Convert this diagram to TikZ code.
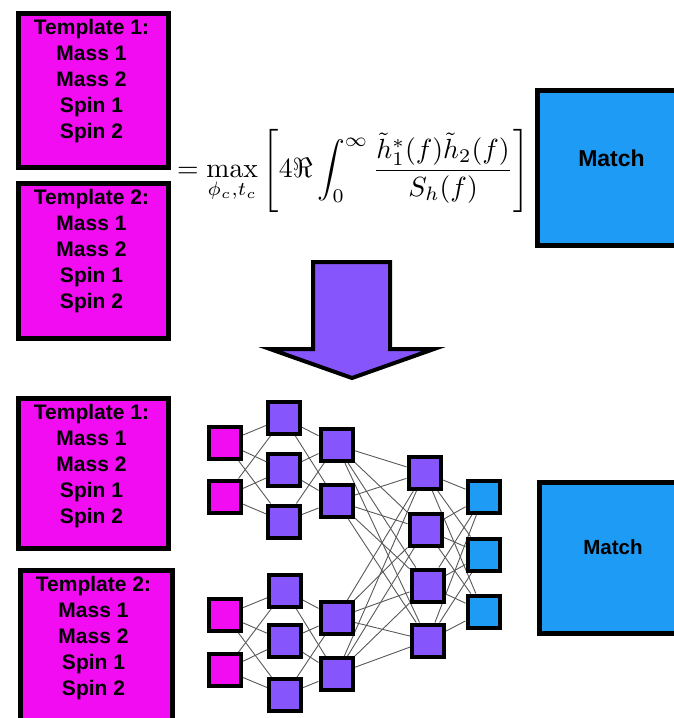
\documentclass[tikz,border=0pt]{standalone}
\usepackage{fontspec}
\newfontfamily\lsans{Liberation Sans}
\usepackage{amsmath,amssymb,graphicx}
\usetikzlibrary{backgrounds}
\definecolor{magen}{RGB}{242,12,242}
\definecolor{purp}{RGB}{135,85,252}
\definecolor{blu}{RGB}{30,155,245}
\tikzset{
  bigbox/.style={draw=black,line width=5pt},
  boxtext/.style={font=\lsans\bfseries\fontsize{21}{26}\selectfont,align=center,inner sep=0pt,anchor=north},
  matchtext/.style={font=\lsans\bfseries\fontsize{23}{28}\selectfont,inner sep=0pt},
  neuron/.style={draw=black,line width=4pt,minimum size=32pt,inner sep=0pt},
  inp/.style={neuron,fill=magen},
  hid/.style={neuron,fill=purp},
  outp/.style={neuron,fill=blu},
  conn/.style={draw=black!65,line width=0.9pt},
}
\begin{document}
\begin{tikzpicture}[x=1pt,y=-1pt]
\useasboundingbox (0,0) rectangle (674,718);
\clip (0,0) rectangle (674,718);
% top template boxes
\node[bigbox,fill=magen,minimum width=150pt,minimum height=154pt,anchor=north west] (tb1) at (15.5,10.5) {};
\node[boxtext] (tb1t) at (91.5,19) {Template 1:\\Mass 1\\Mass 2\\Spin 1\\Spin 2};
\node[bigbox,fill=magen,minimum width=150pt,minimum height=155pt,anchor=north west] (tb2) at (15.5,180.5) {};
\node[boxtext] (tb2t) at (91.5,189) {Template 2:\\Mass 1\\Mass 2\\Spin 1\\Spin 2};
% formula
\node[inner sep=0pt,anchor=west] (eq) at (177,170.5) {\resizebox{352pt}{!}{$\displaystyle =\max_{\phi_c,t_c}\left[4\Re\int_0^\infty\frac{\tilde h_1^*(f)\tilde h_2(f)}{S_h(f)}\right]$}};
% top match
\node[bigbox,fill=blu,minimum width=150pt,minimum height=155pt,anchor=north west] (mt) at (534.5,87.5) {};
\node[matchtext] (mtt) at (611.5,158) {Match};
% big arrow
\draw[fill=purp,draw=black,line width=4pt,line join=miter] (313,262) -- (390,262) -- (390,349) -- (434,349) -- (352,378) -- (270,349) -- (313,349) -- cycle;
% bottom template boxes
\node[bigbox,fill=magen,minimum width=150pt,minimum height=150pt,anchor=north west] (bt1) at (15.5,395.5) {};
\node[boxtext] (bt1t) at (91.5,404) {Template 1:\\Mass 1\\Mass 2\\Spin 1\\Spin 2};
\node[bigbox,fill=magen,minimum width=152pt,minimum height=170pt,anchor=north west] (bt2) at (17.5,567.5) {};
\node[boxtext] (bt2t) at (93.5,576) {Template 2:\\Mass 1\\Mass 2\\Spin 1\\Spin 2};
% bottom match
\node[bigbox,fill=blu,minimum width=150pt,minimum height=151pt,anchor=north west] (mb) at (536.5,479.5) {};
\node[matchtext,font=\lsans\bfseries\fontsize{20.5}{25}\selectfont] (mbt) at (613,547) {Match};
% network
\node[inp] (a1) at (225,442.5) {};
\node[inp] (a2) at (225,496.5) {};
\node[hid] (b1) at (284,418) {};
\node[hid] (b2) at (284,470) {};
\node[hid] (b3) at (284,521.5) {};
\node[hid] (c1) at (336.5,445) {};
\node[hid] (c2) at (336.5,501) {};
\node[inp] (a3) at (225,615) {};
\node[inp] (a4) at (225,670) {};
\node[hid] (b4) at (285,590.5) {};
\node[hid] (b5) at (285,641) {};
\node[hid] (b6) at (285,695) {};
\node[hid] (c3) at (336.5,618) {};
\node[hid] (c4) at (336.5,674) {};
\node[hid] (d1) at (424.5,472.5) {};
\node[hid] (d2) at (425.5,529.5) {};
\node[hid] (d3) at (427.5,585.5) {};
\node[hid] (d4) at (428,640.5) {};
\node[outp] (e1) at (483.5,496.5) {};
\node[outp] (e2) at (483.5,554.5) {};
\node[outp] (e3) at (483.5,611.5) {};
\begin{scope}[on background layer]
\foreach \i in {a1,a2} \foreach \j in {b1,b2,b3} \draw[conn] (\i) -- (\j);
\foreach \i in {b1,b2,b3} \foreach \j in {c1,c2} \draw[conn] (\i) -- (\j);
\foreach \i in {a3,a4} \foreach \j in {b4,b5,b6} \draw[conn] (\i) -- (\j);
\foreach \i in {b4,b5,b6} \foreach \j in {c3,c4} \draw[conn] (\i) -- (\j);
\foreach \i in {c1,c2,c3,c4} \foreach \j in {d1,d2,d3,d4} \draw[conn] (\i) -- (\j);
\foreach \i in {d1,d2,d3,d4} \foreach \j in {e1,e2,e3} \draw[conn] (\i) -- (\j);
\end{scope}
\end{tikzpicture}
\end{document}
